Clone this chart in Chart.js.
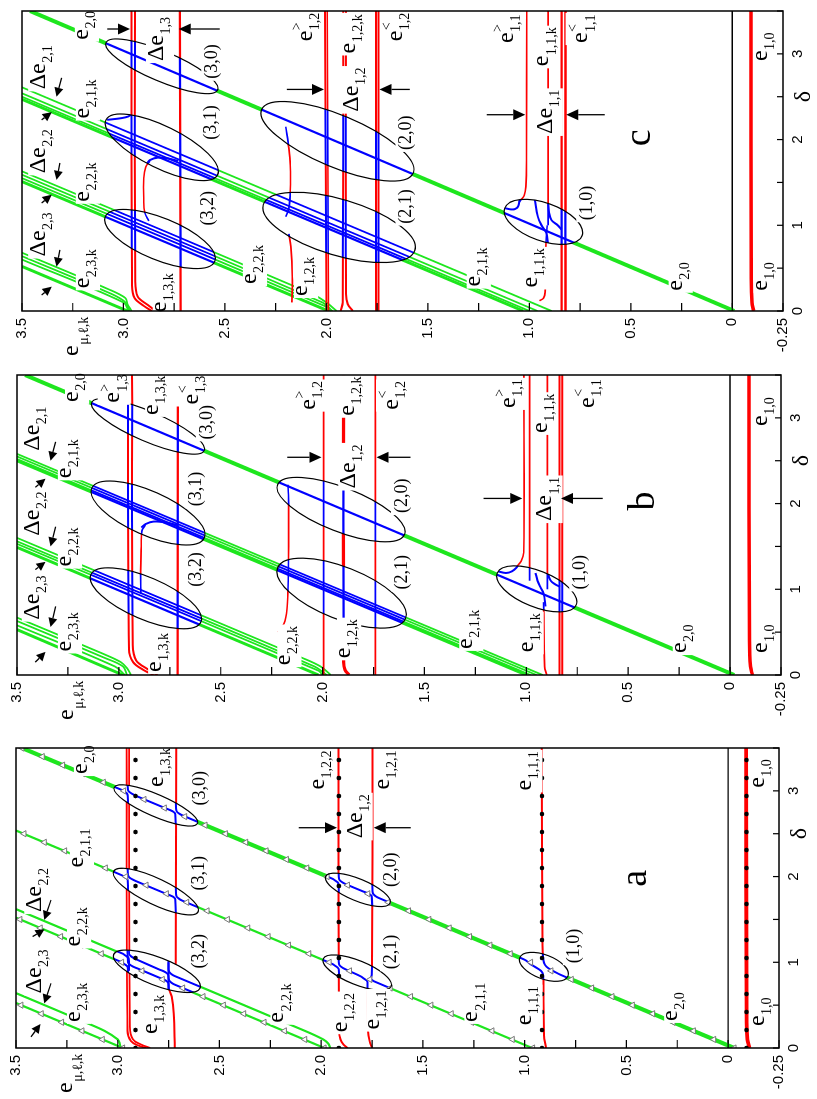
<!DOCTYPE html>
<html>
<head>
<meta charset="utf-8">
<script src="https://cdn.jsdelivr.net/npm/chart.js@4.4.1/dist/chart.umd.min.js"></script>
<style>
html, body { margin: 0; padding: 0; background: #fff; }
body { width: 817px; height: 1099px; position: relative; overflow: hidden; }
.panel { position: absolute; left: 0; transform-origin: 0 0; transform: rotate(-90deg); }
.panel canvas { display: block; }
</style>
</head>
<body>
<div class="panel" id="boxC"><canvas id="chartC"></canvas></div>
<div class="panel" id="boxB"><canvas id="chartB"></canvas></div>
<div class="panel" id="boxA"><canvas id="chartA"></canvas></div>
<script>
// axis ticks
const energyTickValues = [3.5, 3, 2.5, 2, 1.5, 1, 0.5, 0, -0.25];
const energyTickLabels = ['3.5', '3.0', '2.5', '2.0', '1.5', '1.0', '0.5', '0', '-0.25'];
const deltaTickValues = [0, 1, 2, 2.5, 3];
const deltaTickLabels = ['0', '1', '2', 'δ', '3'];

// ---------- panel c (top) : [delta, energy] ----------
const cRedE10 = [[0, -0.105], [0.1, -0.097], [0.4, -0.094], [3.5, -0.092]];
const cRedE11hi = [[1.27, 1.05], [1.3, 1.04], [1.35, 1.025], [1.45, 1.017], [1.8, 1.014], [3.5, 1.013]];
const cRedE11mid = [[1.0, 0.907], [3.5, 0.907]];
const cRedE11low = [[0.12, 0.95], [0.15, 0.93], [0.22, 0.922], [0.8, 0.918], [1.0, 0.912]];
const cRedE11a = [[0, 0.841], [3.5, 0.841]];
const cRedE11b = [[0, 0.822], [3.5, 0.822]];
const cRedE12a = [[0, 2.0], [3.5, 2.007]];
const cRedE12b = [[0, 1.99], [3.5, 1.996]];
const cRedE12c = [[0, 1.93], [0.1, 1.92], [3.5, 1.917]];
const cRedE12d = [[0, 1.87], [0.08, 1.895], [0.2, 1.904], [3.5, 1.904]];
const cRedE12e = [[0, 1.756], [3.5, 1.756]];
const cRedE12f = [[0, 1.743], [3.5, 1.743]];
const cRedE12mid = [[1.1, 2.2], [1.2, 2.185], [1.4, 2.178], [1.7, 2.178], [1.9, 2.185], [2.15, 2.2]];
const cRedE12low = [[0.1, 2.17], [0.4, 2.168], [0.75, 2.175], [0.9, 2.185]];
const cRedE13a = [[0, 2.86], [0.06, 2.9], [0.15, 2.945], [0.3, 2.958], [3.5, 2.96]];
const cRedE13b = [[0, 2.84], [0.07, 2.88], [0.17, 2.93], [0.35, 2.942], [3.5, 2.943]];
const cRedE13c = [[0, 2.718], [3.5, 2.722]];
const cRedE13mid = [[1.05, 2.875], [1.15, 2.895], [1.3, 2.9], [1.55, 2.9], [1.68, 2.89], [1.75, 2.87]];
const cGrnE20 = [[0, -0.01], [3.5, 3.46]];
const cGrnE21a = [[0, 0.89], [2.61, 3.5]];
const cGrnE21b = [[0, 0.96], [2.54, 3.5]];
const cGrnE21c = [[0, 1.0], [2.5, 3.5]];
const cGrnE21d = [[0, 1.03], [2.47, 3.5]];
const cGrnE22a = [[0, 1.95], [0.1, 2.0], [0.2, 2.07], [1.63, 3.5]];
const cGrnE22b = [[0, 1.97], [0.1, 2.02], [1.59, 3.5]];
const cGrnE22c = [[0, 1.98], [0.05, 2.0], [1.55, 3.5]];
const cGrnE22d = [[0, 1.99], [1.51, 3.5]];
const cGrnE23a = [[0, 2.96], [0.08, 2.98], [0.15, 2.99], [0.25, 3.07], [0.68, 3.5]];
const cGrnE23b = [[0, 2.97], [0.1, 2.99], [0.2, 3.06], [0.64, 3.5]];
const cGrnE23c = [[0, 2.975], [0.1, 3.0], [0.6, 3.5]];
const cGrnE23d = [[0, 2.98], [0.52, 3.5]];
const cBlueHook10a = [[1.2, 1.121], [1.185, 1.09], [1.19, 1.07], [1.22, 1.055], [1.3, 1.047]];
const cBlueHook10b = [[0.79, 0.908], [0.91, 0.916], [1.0, 0.94], [1.1, 0.958], [1.3, 0.973]];
const cBlueHook10c = [[0.95, 0.841], [1.0, 0.86], [1.06, 0.891], [1.15, 0.903], [1.25, 0.907]];
const cBlueHook31a = [[1.72, 2.885], [1.76, 2.87], [1.79, 2.83], [1.78, 2.78], [1.75, 2.73]];
const cBlueHook31b = [[2.4, 2.96], [2.3, 2.962], [2.27, 2.976], [2.25, 3.01], [2.23, 3.08]];
const cEllipses = [[3.13, 3.086, 2.58, 2.536], [2.23, 3.086, 1.59, 2.536], [1.10, 3.09, 0.58, 2.55],
                   [2.35, 2.319, 1.61, 1.572], [1.24, 2.311, 0.71, 1.564], [1.20, 1.121, 0.88, 0.74]];
const cLabels = [
  [3.33, 3.18, 'e', '2,0'], [3.17, 2.82, 'Δe', '1,3'], [2.91, 2.56, '(3,0)'],
  [2.84, 3.40, 'Δe', '2,1'], [2.47, 3.175, 'e', '2,1,k'], [1.86, 3.40, 'Δe', '2,2'],
  [1.50, 3.175, 'e', '2,2,k'], [2.2, 2.564, '(3,1)'], [0.89, 3.40, 'Δe', '2,3'],
  [0.49, 3.175, 'e', '2,3,k'], [1.2, 2.58, '(3,2)'], [0.21, 2.796, 'e', '1,3,k'],
  [0.54, 2.352, 'e', '2,2,k'], [0.40, 2.10, 'e', '1,2,k'], [3.31, 2.096, 'e', '1,2', '>'],
  [3.23, 1.865, 'e', '1,2,k'], [3.31, 1.653, 'e', '1,2', '<'], [2.58, 1.86, 'Δe', '1,2'],
  [2.08, 1.603, '(2,0)'], [1.22, 1.603, '(2,1)'], [2.02, 0.451, 'c'],
  [3.29, 1.106, 'e', '1,1', '>'], [3.08, 0.91, 'e', '1,1,k'], [3.29, 0.74, 'e', '1,1', '<'],
  [2.32, 0.904, 'Δe', '1,1'], [1.26, 0.712, '(1,0)'], [0.5, 0.968, 'e', '1,1,k'],
  [0.51, 1.249, 'e', '2,1,k'], [0.4, 0.254, 'e', '2,0'], [3.08, -0.165, 'e', '1,0'], [0.4, -0.165, 'e', '1,0']
];
const cArrows = [[3.29, 3.08, 3.29, 2.968], [3.29, 2.525, 3.29, 2.728], [2.585, 2.195, 2.585, 2.012],
                 [2.585, 1.589, 2.585, 1.738], [2.29, 1.21, 2.29, 1.02], [2.29, 0.628, 2.29, 0.818]];
const cSmallArrows = [[2.72, 3.305, 2.5, 3.33], [2.23, 3.403, 2.32, 3.354], [1.727, 3.313, 1.53, 3.33],
                      [1.26, 3.403, 1.357, 3.354], [0.713, 3.313, 0.518, 3.33], [0.187, 3.403, 0.284, 3.354]];

// ---------- panel b (middle) ----------
const bRedE10 = [[0, -0.11], [0.1, -0.1], [0.4, -0.095], [3.5, -0.093]];
const bRedE11hi = [[1.27, 1.045], [1.33, 1.025], [1.43, 1.013], [3.5, 1.012]];
const bRedE11hi2 = [[1.1, 0.984], [3.5, 0.984]];
const bRedE11mid = [[1.0, 0.897], [3.5, 0.897]];
const bRedE11low = [[0, 0.9], [0.1, 0.91], [0.85, 0.915]];
const bRedE11a = [[0, 0.837], [3.5, 0.837]];
const bRedE11b = [[0, 0.824], [3.5, 0.824]];
const bRedE12a = [[0, 1.995], [3.5, 1.995]];
const bRedE12b = [[0, 1.87], [0.06, 1.89], [0.15, 1.897], [3.5, 1.897]];
const bRedE12c = [[0, 1.741], [3.5, 1.741]];
const bRedE12mid = [[0.5, 2.22], [0.6, 2.19], [0.77, 2.175], [1.0, 2.17], [1.5, 2.167], [2.0, 2.167], [2.22, 2.17]];
const bRedE13a = [[0, 2.83], [0.06, 2.88], [0.15, 2.93], [0.3, 2.95], [3.5, 2.955]];
const bRedE13b = [[0, 2.81], [0.07, 2.86], [0.17, 2.915], [0.35, 2.932], [3.5, 2.935]];
const bRedE13c = [[0, 2.712], [3.5, 2.71]];
const bRedE13mid = [[0.95, 2.892], [1.2, 2.893], [1.5, 2.89], [1.68, 2.887], [1.75, 2.87]];
const bGrnE20 = [[0, -0.02], [3.5, 3.46]];
const bGrnE21a = [[0, 0.92], [2.58, 3.5]];
const bGrnE21b = [[0, 0.95], [2.55, 3.5]];
const bGrnE21c = [[0, 0.98], [2.52, 3.5]];
const bGrnE21d = [[0, 1.0], [2.5, 3.5]];
const bGrnE22a = [[0, 1.96], [0.1, 2.01], [0.2, 2.1], [1.6, 3.5]];
const bGrnE22b = [[0, 1.98], [0.1, 2.04], [1.56, 3.5]];
const bGrnE22c = [[0, 2.0], [0.05, 2.02], [1.53, 3.5]];
const bGrnE22d = [[0, 2.02], [1.49, 3.5]];
const bGrnE23a = [[0, 2.94], [0.08, 2.96], [0.15, 2.99], [0.25, 3.08], [0.67, 3.5]];
const bGrnE23b = [[0, 2.96], [0.1, 2.98], [0.2, 3.07], [0.63, 3.5]];
const bGrnE23c = [[0, 2.97], [0.1, 3.02], [0.58, 3.5]];
const bGrnE23d = [[0, 2.98], [0.53, 3.5]];
const bBlueHook10a = [[1.21, 1.14], [1.19, 1.1], [1.21, 1.07], [1.25, 1.05], [1.3, 1.035]];
const bBlueHook10b = [[0.8, 0.906], [0.95, 0.915], [1.02, 0.93], [1.1, 0.945], [1.19, 0.955]];
const bBlueHook10c = [[1.03, 0.835], [1.06, 0.86], [1.1, 0.88], [1.17, 0.892], [1.3, 0.897]];
const bBlueHook31 = [[1.72, 2.89], [1.76, 2.87], [1.79, 2.83], [1.78, 2.77], [1.75, 2.715]];
const bEllipses = [[3.18, 3.133, 2.62, 2.581], [2.18, 3.133, 1.60, 2.581], [1.17, 3.138, 0.62, 2.597],
                   [2.22, 2.221, 1.64, 1.598], [1.25, 2.221, 0.66, 1.593], [1.19, 1.143, 0.82, 0.755]];
const bLabels = [
  [3.35, 3.205, 'e', '2,0'], [3.34, 3.023, 'e', '1,3', '>'], [3.26, 2.812, 'e', '1,3,k'],
  [3.32, 2.64, 'e', '1,3', '<'], [2.95, 2.566, '(3,0)'], [2.87, 3.407, 'Δe', '2,1'],
  [2.52, 3.24, 'e', '2,1,k'], [1.88, 3.407, 'Δe', '2,2'], [1.49, 3.24, 'e', '2,2,k'],
  [0.9, 3.407, 'Δe', '2,3'], [0.5, 3.24, 'e', '2,3,k'], [2.17, 2.62, '(3,1)'],
  [1.23, 2.62, '(3,2)'], [0.26, 2.797, 'e', '1,3,k'], [0.34, 2.163, 'e', '2,2,k'],
  [0.42, 1.87, 'e', '1,2,k'], [3.26, 2.065, 'e', '1,2', '>'], [3.25, 1.85, 'e', '1,2,k'],
  [3.26, 1.657, 'e', '1,2', '<'], [2.43, 1.854, 'Δe', '1,2'], [2.09, 1.608, '(2,0)'],
  [1.2, 1.608, '(2,1)'], [2.03, 0.44, 'b'], [3.28, 1.082, 'e', '1,1', '>'],
  [3.05, 0.905, 'e', '1,1,k'], [3.28, 0.694, 'e', '1,1', '<'], [2.05, 0.891, 'Δe', '1,1'],
  [1.2, 0.733, '(1,0)'], [0.49, 0.974, 'e', '1,1,k'], [0.53, 1.27, 'e', '2,1,k'],
  [0.42, 0.222, 'e', '2,0'], [3.07, -0.176, 'e', '1,0'], [0.42, -0.176, 'e', '1,0']
];
const bArrows = [[2.54, 2.173, 2.54, 2.005], [2.54, 1.569, 2.54, 1.735], [2.06, 1.21, 2.06, 1.02], [2.06, 0.625, 2.06, 0.83]];
const bSmallArrows = [[2.72, 3.31, 2.5, 3.335], [2.19, 3.41, 2.29, 3.36], [1.73, 3.31, 1.5, 3.335],
                      [1.23, 3.41, 1.32, 3.36], [0.8, 3.31, 0.56, 3.335], [0.15, 3.41, 0.27, 3.36]];

// ---------- panel a (bottom) ----------
const aRedE10 = [[0, -0.105], [0.1, -0.095], [0.3, -0.091], [3.5, -0.088]];
const aRedE111 = [[0, 0.895], [0.15, 0.905], [0.8, 0.908], [1.2, 0.912], [3.5, 0.916]];
const aRedE121 = [[0, 1.75], [0.08, 1.762], [0.2, 1.77], [0.65, 1.773], [0.8, 1.76], [1.0, 1.75], [3.5, 1.748]];
const aRedE122 = [[0, 1.87], [0.04, 1.89], [0.1, 1.905], [0.2, 1.912], [3.5, 1.915]];
const aRedE13a = [[0, 2.86], [0.03, 2.9], [0.08, 2.935], [0.2, 2.952], [3.5, 2.956]];
const aRedE13b = [[0, 2.84], [0.04, 2.885], [0.1, 2.925], [0.25, 2.94], [3.5, 2.944]];
const aRedE13c = [[0, 2.72], [0.4, 2.725], [0.6, 2.735], [0.74, 2.752], [0.9, 2.72], [1.1, 2.715], [3.5, 2.713]];
const aGrnE20 = [[0, -0.03], [3.5, 3.47]];
const aGrnE211 = [[0, 0.963], [2.537, 3.5]];
const aGrnE22a = [[0, 1.955], [0.05, 1.965], [0.1, 1.99], [0.2, 2.08], [1.62, 3.5]];
const aGrnE22b = [[0, 1.985], [1.52, 3.5]];
const aGrnE23a = [[0, 2.985], [0.05, 2.99], [0.1, 3.0], [0.2, 3.065], [0.3, 3.16], [0.64, 3.5]];
const aGrnE23b = [[0, 2.975], [0.525, 3.5]];
const aBlue30a = [[2.7, 2.95], [2.94, 2.951], [2.97, 2.955], [2.99, 2.967], [3.01, 2.98], [3.2, 3.17]];
const aBlue30b = [[2.5, 2.715], [2.73, 2.717], [2.755, 2.726], [2.775, 2.742], [2.8, 2.768], [2.94, 2.908], [2.96, 2.925], [2.985, 2.942], [3.01, 2.95], [3.3, 2.952]];
const aBlue30c = [[2.5, 2.47], [2.715, 2.683], [2.735, 2.698], [2.76, 2.71], [2.8, 2.714], [3.0, 2.715]];
const aBlue31a = [[1.7, 2.95], [1.95, 2.951], [1.975, 2.955], [1.995, 2.968], [2.015, 2.98], [2.2, 3.163]];
const aBlue31b = [[1.5, 2.715], [1.735, 2.717], [1.76, 2.725], [1.78, 2.742], [1.8, 2.763], [1.95, 2.913], [1.97, 2.93], [1.99, 2.943], [2.02, 2.95], [2.3, 2.952]];
const aBlue31c = [[1.4, 2.363], [1.72, 2.683], [1.74, 2.698], [1.765, 2.71], [1.8, 2.714], [2.0, 2.715]];
const aBlue32a = [[0.8, 2.95], [0.94, 2.951], [0.96, 2.956], [0.98, 2.968], [1.0, 2.98], [1.2, 3.18]];
const aBlue32b = [[0.5, 2.745], [0.75, 2.75], [0.775, 2.757], [0.795, 2.77], [0.815, 2.79], [0.93, 2.905], [0.95, 2.925], [0.975, 2.942], [1.0, 2.95], [1.2, 2.952]];
const aBlue32c = [[0.5, 2.48], [0.74, 2.72], [0.76, 2.735], [0.785, 2.746], [0.82, 2.75], [1.0, 2.75]];
const aBlue32d = [[0.9, 2.945], [1.04, 2.946], [1.06, 2.951], [1.08, 2.963], [1.1, 2.975], [1.3, 3.18]];
const aBlue32e = [[0.6, 2.75], [0.85, 2.752], [0.875, 2.76], [0.895, 2.774], [0.915, 2.795], [1.03, 2.905], [1.05, 2.922], [1.075, 2.937], [1.1, 2.944], [1.3, 2.946]];
const aBlue32f = [[0.6, 2.48], [0.84, 2.72], [0.86, 2.735], [0.885, 2.746], [0.92, 2.75], [1.1, 2.75]];
const aBlue20a = [[1.7, 1.914], [1.91, 1.915], [1.935, 1.92], [1.955, 1.932], [1.975, 1.945], [2.2, 2.17]];
const aBlue20b = [[1.5, 1.749], [1.765, 1.751], [1.79, 1.76], [1.81, 1.776], [1.83, 1.798], [1.905, 1.873], [1.925, 1.89], [1.95, 1.906], [1.975, 1.913], [2.2, 1.915]];
const aBlue20c = [[1.5, 1.47], [1.75, 1.717], [1.77, 1.732], [1.795, 1.744], [1.83, 1.748], [2.0, 1.749]];
const aBlue21a = [[0.7, 1.913], [0.92, 1.914], [0.94, 1.92], [0.96, 1.932], [0.98, 1.945], [1.2, 2.163]];
const aBlue21b = [[0.5, 1.772], [0.77, 1.773], [0.79, 1.778], [0.81, 1.79], [0.835, 1.805], [0.91, 1.873], [0.93, 1.89], [0.955, 1.906], [0.98, 1.913], [1.2, 1.915]];
const aBlue21c = [[0.5, 1.463], [0.77, 1.733], [0.79, 1.748], [0.81, 1.755], [0.85, 1.752], [1.2, 1.749]];
const aBlue10a = [[0.7, 0.908], [0.86, 0.91], [0.9, 0.92], [0.94, 0.945], [0.98, 0.972], [1.03, 1.0], [1.2, 1.17]];
const aBlue10b = [[0.7, 0.67], [0.85, 0.82], [0.89, 0.853], [0.93, 0.883], [0.97, 0.9], [1.02, 0.908], [1.2, 0.912]];
const aDotDelta = [0, 0.21, 0.42, 0.63, 0.84, 1.05, 1.26, 1.47, 1.68, 1.89, 2.10, 2.31, 2.52, 2.73, 2.94, 3.15, 3.36];
const aDotLevels = [-0.09, 0.915, 1.913, 2.913];
const aTriDelta = [0, 0.1, 0.2, 0.3, 0.4, 0.5, 0.6, 0.7, 0.8, 0.9, 1.0, 1.1, 1.2, 1.3, 1.4, 1.5, 1.6, 1.7,
                   1.8, 1.9, 2.0, 2.1, 2.2, 2.3, 2.4, 2.5, 2.6, 2.7, 2.8, 2.9, 3.0, 3.1, 3.2, 3.3, 3.4, 3.5];
const aTriE20 = [-0.03, 0.07, 0.17, 0.27, 0.37, 0.47, 0.57, 0.67, 0.77, 0.87, 0.97, 1.07, 1.17, 1.27, 1.37, 1.47, 1.57, 1.67,
                 1.77, 1.87, 1.97, 2.07, 2.17, 2.27, 2.37, 2.47, 2.57, 2.67, 2.77, 2.87, 2.97, 3.07, 3.17, 3.27, 3.37, 3.47];
const aTriE211 = [0.96, 1.06, 1.16, 1.26, 1.36, 1.46, 1.56, 1.66, 1.76, 1.86, 1.96, 2.06, 2.16, 2.26, 2.36, 2.46, 2.56,
                  2.66, 2.76, 2.86, 2.96, 3.06, 3.16, 3.26, 3.36, 3.46];
const aTriE22 = [1.985, 2.08, 2.18, 2.28, 2.38, 2.48, 2.58, 2.68, 2.78, 2.88, 2.98, 3.08, 3.18, 3.28, 3.38, 3.48];
const aTriE23 = [2.975, 3.075, 3.175, 3.275, 3.375, 3.475];
const aEllipses = [[3.04, 3.017, 2.62, 2.608], [2.06, 3.02, 1.59, 2.605], [1.09, 3.02, 0.70, 2.595],
                   [2.0, 1.978, 1.69, 1.662], [1.04, 1.99, 0.72, 1.656], [1.054, 1.024, 0.84, 0.787]];
const aLabels = [
  [3.36, 3.156, 'e', '2,0'], [3.27, 2.783, 'e', '1,3,k'], [3.03, 2.592, '(3,0)'],
  [2.33, 3.176, 'e', '2,1,1'], [2.04, 2.597, '(3,1)'], [1.84, 3.39, 'Δe', '2,2'],
  [1.41, 3.19, 'e', '2,2,k'], [0.89, 3.39, 'Δe', '2,3'], [1.13, 2.597, '(3,2)'],
  [0.53, 3.19, 'e', '2,3,k'], [0.39, 2.81, 'e', '1,3,k'], [0.52, 2.19, 'e', '2,2,k'],
  [3.24, 1.99, 'e', '1,2,2'], [3.24, 1.67, 'e', '1,2,1'], [2.70, 1.816, 'Δe', '1,2'],
  [2.08, 1.654, '(2,0)'], [1.12, 1.654, '(2,1)'], [0.41, 1.88, 'e', '1,2,2'],
  [0.44, 1.72, 'e', '1,2,1'], [1.98, 0.446, 'a'], [3.23, 0.972, 'e', '1,1,1'],
  [3.2, -0.172, 'e', '1,0'], [1.19, 0.756, '(1,0)'], [0.49, 0.972, 'e', '1,1,1'],
  [0.53, 1.237, 'e', '2,1,1'], [0.48, 0.255, 'e', '2,0'], [0.42, -0.172, 'e', '1,0']
];
const aArrows = [[2.57, 2.11, 2.57, 1.922], [2.57, 1.56, 2.57, 1.742]];
const aSmallArrows = [[1.727, 3.328, 1.494, 3.361], [1.3, 3.418, 1.385, 3.36], [0.755, 3.328, 0.52, 3.361], [0.13, 3.426, 0.28, 3.38]];

// ---------- styles / layout ----------
const RED = '#ff0000', GREEN = '#1ee61e', BLUE = '#0000ff';
const THIN_GREEN = 1.8;
const cEllipseHalfWidth = [15, 21, 21, 26, 28, 19];
const bEllipseHalfWidth = [15, 22, 21, 22, 26, 18];
const aEllipseHalfWidth = [11, 13, 14, 11, 12, 12];
const panelLayout = {
  C: { top: 0, h: 365, yAxisW: 54, padRight: 11, padTop: 22, xAxisH: 34 },
  B: { top: 365, h: 360, yAxisW: 50, padRight: 10, padTop: 17, xAxisH: 36 },
  A: { top: 725, h: 374, yAxisW: 51, padRight: 23, padTop: 15, xAxisH: 38 }
};
const SERIF = '"Liberation Serif", "Times New Roman", serif';

function series(pts, color, width, clipTo) {
  return {
    data: pts.map(p => ({ x: p[0], y: p[1] })),
    showLine: true, borderColor: color, borderWidth: width, pointRadius: 0,
    tension: pts.length > 2 ? 0.35 : 0, clipTo: clipTo
  };
}
function zeroLine() {
  return { data: [{ x: 0, y: 0 }, { x: 3.5, y: 0 }], showLine: true, borderColor: '#000', borderWidth: 1.4, pointRadius: 0 };
}

// red, green lists: [points, width]
function bcDatasets(reds, greens, hooks) {
  const ds = [];
  hooks.forEach(h => ds.push(series(h, BLUE, 2, 'in')));
  reds.forEach(r => ds.push(series(r[0], BLUE, Math.min(r[1], 2.2), 'in')));
  greens.forEach(g => ds.push(series(g[0], BLUE, Math.min(g[1], 2.2), 'in')));
  reds.forEach(r => ds.push(series(r[0], RED, r[1], 'out')));
  greens.forEach(g => ds.push(series(g[0], GREEN, g[1], 'out')));
  ds.push(zeroLine());
  return ds;
}

const cDatasets = bcDatasets(
  [[cRedE10, 3.5], [cRedE11hi, 1.6], [cRedE11mid, 1.8], [cRedE11low, 1.6], [cRedE11a, 2.4], [cRedE11b, 2.4],
   [cRedE12a, 2], [cRedE12b, 1.6], [cRedE12c, 2], [cRedE12d, 2], [cRedE12e, 2], [cRedE12f, 2],
   [cRedE12mid, 1.6], [cRedE12low, 1.6], [cRedE13a, 2], [cRedE13b, 2], [cRedE13c, 2.2], [cRedE13mid, 1.6]],
  [[cGrnE20, 4], [cGrnE21a, THIN_GREEN], [cGrnE21b, THIN_GREEN], [cGrnE21c, THIN_GREEN], [cGrnE21d, 3],
   [cGrnE22a, THIN_GREEN], [cGrnE22b, THIN_GREEN], [cGrnE22c, THIN_GREEN], [cGrnE22d, 3],
   [cGrnE23a, THIN_GREEN], [cGrnE23b, THIN_GREEN], [cGrnE23c, THIN_GREEN], [cGrnE23d, 3]],
  [cBlueHook10a, cBlueHook10b, cBlueHook10c, cBlueHook31a, cBlueHook31b]
);
const bDatasets = bcDatasets(
  [[bRedE10, 3.5], [bRedE11hi, 1.6], [bRedE11hi2, 1.6], [bRedE11mid, 1.8], [bRedE11low, 1.6], [bRedE11a, 2], [bRedE11b, 2],
   [bRedE12a, 1.8], [bRedE12b, 3.2], [bRedE12c, 1.8], [bRedE12mid, 1.6], [bRedE13a, 2], [bRedE13b, 2], [bRedE13c, 2.2], [bRedE13mid, 1.6]],
  [[bGrnE20, 4], [bGrnE21a, THIN_GREEN], [bGrnE21b, THIN_GREEN], [bGrnE21c, THIN_GREEN], [bGrnE21d, 3],
   [bGrnE22a, THIN_GREEN], [bGrnE22b, THIN_GREEN], [bGrnE22c, THIN_GREEN], [bGrnE22d, 3],
   [bGrnE23a, THIN_GREEN], [bGrnE23b, THIN_GREEN], [bGrnE23c, THIN_GREEN], [bGrnE23d, 3]],
  [bBlueHook10a, bBlueHook10b, bBlueHook10c, bBlueHook31]
);

const aDatasets = [];
aDotLevels.forEach(lv => aDatasets.push({
  data: aDotDelta.map(d => ({ x: d, y: lv })), showLine: false, pointRadius: 2.3,
  pointBackgroundColor: '#000', pointBorderColor: '#000', pointBorderWidth: 0
}));
[aTriE20, aTriE211, aTriE22, aTriE23].forEach(es => aDatasets.push({
  data: es.map((e, i) => ({ x: aTriDelta[i], y: e })), showLine: false, pointStyle: 'triangle',
  pointRadius: 3.6, pointBackgroundColor: '#fff', pointBorderColor: '#777', pointBorderWidth: 1
}));
[aBlue30a, aBlue30b, aBlue30c, aBlue31a, aBlue31b, aBlue31c, aBlue32a, aBlue32b, aBlue32c, aBlue32d, aBlue32e, aBlue32f,
 aBlue20a, aBlue20b, aBlue20c, aBlue21a, aBlue21b, aBlue21c, aBlue10a, aBlue10b]
  .forEach(b => aDatasets.push(series(b, BLUE, 2, 'in')));
[[aRedE10, 3.8], [aRedE111, 2], [aRedE121, 2], [aRedE122, 2], [aRedE13a, 1.8], [aRedE13b, 1.8], [aRedE13c, 2]]
  .forEach(r => aDatasets.push(series(r[0], RED, r[1], 'out')));
[[aGrnE20, 4.2], [aGrnE211, 2.2], [aGrnE22a, 2.2], [aGrnE22b, 2.2], [aGrnE23a, 2.2], [aGrnE23b, 2.2]]
  .forEach(g => aDatasets.push(series(g[0], GREEN, g[1], 'out')));
aDatasets.push(zeroLine());

const figs = {
  chartC: { ellipses: cEllipses, widths: cEllipseHalfWidth, labels: cLabels, arrows: cArrows, small: cSmallArrows },
  chartB: { ellipses: bEllipses, widths: bEllipseHalfWidth, labels: bLabels, arrows: bArrows, small: bSmallArrows },
  chartA: { ellipses: aEllipses, widths: aEllipseHalfWidth, labels: aLabels, arrows: aArrows, small: aSmallArrows }
};

function ellipseGeom(chart, el, b) {
  const xs = chart.scales.x, ys = chart.scales.y;
  const x1 = xs.getPixelForValue(el[0]), y1 = ys.getPixelForValue(el[1]);
  const x2 = xs.getPixelForValue(el[2]), y2 = ys.getPixelForValue(el[3]);
  return { cx: (x1 + x2) / 2, cy: (y1 + y2) / 2, a: Math.hypot(x2 - x1, y2 - y1) / 2, b: b, rot: Math.atan2(y2 - y1, x2 - x1) };
}
function ellipsePath(ctx, g) {
  ctx.moveTo(g.cx + g.a * Math.cos(g.rot), g.cy + g.a * Math.sin(g.rot));
  ctx.ellipse(g.cx, g.cy, g.a, g.b, g.rot, 0, Math.PI * 2);
}
function drawRich(ctx, cx, cy, t, sub, sup, size, subSize, bg) {
  ctx.font = size + 'px ' + SERIF;
  const m = ctx.measureText(t);
  ctx.font = subSize + 'px ' + SERIF;
  const ms = sub ? ctx.measureText(sub) : null;
  const mp = sup ? ctx.measureText(sup) : null;
  const subOff = size * 0.3, supOff = -size * 0.45;
  const w = m.width + Math.max(ms ? ms.width : 0, mp ? mp.width : 0);
  let top = -m.actualBoundingBoxAscent, bot = m.actualBoundingBoxDescent;
  if (ms) { top = Math.min(top, subOff - ms.actualBoundingBoxAscent); bot = Math.max(bot, subOff + ms.actualBoundingBoxDescent); }
  if (mp) { top = Math.min(top, supOff - mp.actualBoundingBoxAscent); bot = Math.max(bot, supOff + mp.actualBoundingBoxDescent); }
  const x0 = cx - w / 2, base = cy - (top + bot) / 2;
  if (bg) { ctx.fillStyle = '#fff'; ctx.fillRect(x0 - 2, base + top - 2, w + 4, bot - top + 4); }
  ctx.fillStyle = '#000'; ctx.textAlign = 'left'; ctx.textBaseline = 'alphabetic';
  ctx.font = size + 'px ' + SERIF;
  ctx.fillText(t, x0, base);
  ctx.font = subSize + 'px ' + SERIF;
  if (ms) ctx.fillText(sub, x0 + m.width + 0.5, base + subOff);
  if (mp) ctx.fillText(sup, x0 + m.width + 0.5, base + supOff);
}
function drawArrow(ctx, xs, ys, a, head, half) {
  const x1 = xs.getPixelForValue(a[0]), y1 = ys.getPixelForValue(a[1]);
  const x2 = xs.getPixelForValue(a[2]), y2 = ys.getPixelForValue(a[3]);
  const ang = Math.atan2(y2 - y1, x2 - x1);
  const bx = x2 - head * Math.cos(ang), by = y2 - head * Math.sin(ang);
  ctx.strokeStyle = '#000'; ctx.lineWidth = 1.3;
  ctx.beginPath(); ctx.moveTo(x1, y1); ctx.lineTo(bx, by); ctx.stroke();
  ctx.fillStyle = '#000';
  ctx.beginPath(); ctx.moveTo(x2, y2);
  ctx.lineTo(bx - half * Math.sin(ang), by + half * Math.cos(ang));
  ctx.lineTo(bx + half * Math.sin(ang), by - half * Math.cos(ang));
  ctx.closePath(); ctx.fill();
}

const figurePlugin = {
  id: 'figure',
  beforeDatasetDraw(chart, args) {
    const ds = chart.data.datasets[args.index];
    if (!ds.clipTo) return;
    const ctx = chart.ctx, fig = figs[chart.canvas.id], area = chart.chartArea;
    ctx.save();
    ctx.beginPath();
    if (ds.clipTo === 'out') ctx.rect(area.left - 5, area.top - 5, area.width + 10, area.height + 10);
    fig.ellipses.forEach((el, i) => ellipsePath(ctx, ellipseGeom(chart, el, fig.widths[i])));
    ctx.clip('evenodd');
  },
  afterDatasetDraw(chart, args) {
    if (chart.data.datasets[args.index].clipTo) chart.ctx.restore();
  },
  afterDatasetsDraw(chart) {
    const ctx = chart.ctx, fig = figs[chart.canvas.id], area = chart.chartArea;
    const xs = chart.scales.x, ys = chart.scales.y;
    ctx.save();
    // ellipses
    ctx.strokeStyle = '#000'; ctx.lineWidth = 1.2;
    fig.ellipses.forEach((el, i) => { ctx.beginPath(); ellipsePath(ctx, ellipseGeom(chart, el, fig.widths[i])); ctx.stroke(); });
    // labels
    fig.labels.forEach(L => {
      let size = 24, subSize = 14;
      if (L[2].charAt(0) === '(') size = 18;
      if (L[2].length === 1 && L[2] !== 'e') size = 38;
      drawRich(ctx, xs.getPixelForValue(L[0]), ys.getPixelForValue(L[1]), L[2], L[3], L[4], size, subSize, true);
    });
    // arrows
    fig.arrows.forEach(a => drawArrow(ctx, xs, ys, a, 12, 5.5));
    fig.small.forEach(a => drawArrow(ctx, xs, ys, a, 9, 4.5));
    // frame and inward ticks
    ctx.strokeStyle = '#000'; ctx.lineWidth = 1.5;
    ctx.strokeRect(area.left, area.top, area.width, area.height);
    ctx.lineWidth = 1.2;
    ctx.beginPath();
    ys.ticks.forEach(t => { const y = ys.getPixelForValue(t.value); ctx.moveTo(area.left, y); ctx.lineTo(area.left + 8, y); });
    xs.ticks.forEach(t => { const x = xs.getPixelForValue(t.value); ctx.moveTo(x, area.bottom); ctx.lineTo(x, area.bottom - 6); });
    ctx.stroke();
    // axis title e_{mu,l,k} sits at the 3.25 tick
    const ty = ys.getPixelForValue(3.25);
    ctx.fillStyle = '#000'; ctx.textAlign = 'left'; ctx.textBaseline = 'alphabetic';
    ctx.font = '24px ' + SERIF;
    const x0 = area.left - 45;
    ctx.fillText('e', x0, ty + 5);
    const ew = ctx.measureText('e').width;
    ctx.font = '14px ' + SERIF;
    ctx.fillText('μ,ℓ,k', x0 + ew + 0.5, ty + 15);
    ctx.restore();
  }
};

function makeChart(key, datasets) {
  const L = panelLayout[key];
  const box = document.getElementById('box' + key);
  box.style.top = (L.top + L.h) + 'px';
  box.style.width = L.h + 'px';
  box.style.height = '817px';
  const canvas = document.getElementById('chart' + key);
  canvas.width = L.h; canvas.height = 817;
  return new Chart(canvas, {
    type: 'scatter',
    data: { datasets: datasets },
    options: {
      responsive: false, animation: false, devicePixelRatio: 1, events: [],
      layout: { padding: { top: L.padTop, right: L.padRight, left: 0, bottom: 0 } },
      plugins: { legend: { display: false }, tooltip: { enabled: false } },
      scales: {
        x: {
          type: 'linear', min: 0, max: 3.5,
          grid: { display: false, drawTicks: false }, border: { display: false },
          afterFit: s => { s.height = L.xAxisH; },
          ticks: {
            stepSize: 0.5, autoSkip: false, maxRotation: 0, minRotation: 0, padding: 6, color: '#000',
            font: c => (c.tick && c.tick.value === 2.5) ? { family: SERIF, size: 24 } : { family: '"Liberation Sans", Arial, sans-serif', size: 15 },
            callback: v => { const i = deltaTickValues.indexOf(v); return i >= 0 ? deltaTickLabels[i] : ''; }
          }
        },
        y: {
          type: 'linear', min: -0.25, max: 3.5,
          grid: { display: false, drawTicks: false }, border: { display: false },
          afterFit: s => { s.width = L.yAxisW; },
          ticks: {
            stepSize: 0.25, autoSkip: false, padding: 7, color: '#000',
            font: { family: '"Liberation Sans", Arial, sans-serif', size: 15 },
            callback: v => { const i = energyTickValues.indexOf(v); return i >= 0 ? energyTickLabels[i] : ''; }
          }
        }
      }
    },
    plugins: [figurePlugin]
  });
}

makeChart('C', cDatasets);
makeChart('B', bDatasets);
makeChart('A', aDatasets);
</script>
</body>
</html>
